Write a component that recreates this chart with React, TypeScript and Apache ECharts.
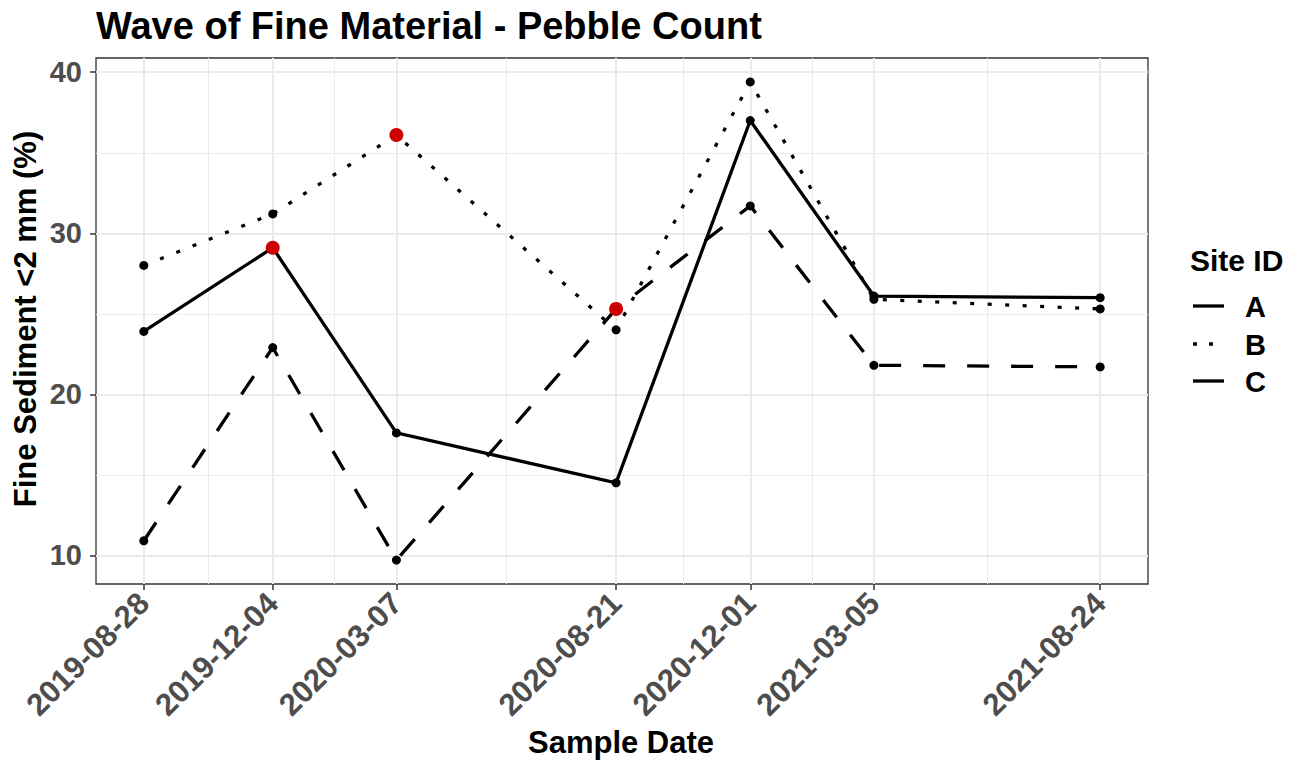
import React, { useEffect, useRef } from 'react';
import * as echarts from 'echarts';

const FONT = '"Liberation Sans", Arial, Helvetica, sans-serif';

// ---- data ----
const sampleDates = ['2019-08-28', '2019-12-04', '2020-03-07', '2020-08-21', '2020-12-01', '2021-03-05', '2021-08-24'];
const siteIds = ['A', 'B', 'C'];
const siteA = [23.9, 29.1, 17.6, 14.5, 37.0, 26.1, 26.0];
const siteB = [28.0, 31.2, 36.1, 24.0, 39.4, 25.9, 25.3];
const siteC = [10.9, 22.9, 9.7, 25.3, 31.7, 21.8, 21.7];
const highlightPoints = [
  { site: 'A', date: '2019-12-04' },
  { site: 'B', date: '2020-03-07' },
  { site: 'C', date: '2020-08-21' },
];
const yMajorTicks = [10, 20, 30, 40];
const yMinorTicks = [15, 25, 35];

const siteValues: Record<string, number[]> = { A: siteA, B: siteB, C: siteC };
const siteDash: Record<string, any> = { A: 'solid', B: [4, 13.5], C: [22, 22] };
const legendDash: Record<string, any> = { A: 'solid', B: [4, 12], C: [40, 10] };

// day numbers (days since epoch) so a numeric value axis acts as a date scale
const toDay = (d: string) => Date.parse(d + 'T00:00:00Z') / 86400000;
const dateDays = sampleDates.map(toDay);
const xMinorDays = dateDays.slice(1).map((t, i) => (t + dateDays[i]) / 2);
const xSpan = dateDays[dateDays.length - 1] - dateDays[0];
const xMin = dateDays[0] - 0.05 * xSpan;
const xMax = dateDays[dateDays.length - 1] + 0.05 * xSpan;
const allVals = [...siteA, ...siteB, ...siteC];
const vMin = Math.min(...allVals);
const vMax = Math.max(...allVals);
const ySpan = vMax - vMin;
const yMin = vMin - 0.05 * ySpan;
const yMax = vMax + 0.05 * ySpan;

const GRID = { left: 96, top: 58, right: 145, bottom: 178 };

export default function App() {
  const ref = useRef<HTMLDivElement>(null);
  useEffect(() => {
    if (!ref.current) return;
    const chart = echarts.init(ref.current, null, { renderer: 'svg' });

    const lineSeries = siteIds.map((s) => ({
      name: s,
      type: 'line',
      xAxisIndex: 0,
      yAxisIndex: 0,
      data: dateDays.map((t, i) => [t, siteValues[s][i]]),
      symbol: 'none',
      lineStyle: { color: '#000', width: 3.3, type: siteDash[s], cap: 'butt', join: 'miter', opacity: 1 },
      z: 2,
    }));
    const pointSeries = siteIds.map((s) => ({
      name: s + '-pts',
      type: 'scatter',
      xAxisIndex: 0,
      yAxisIndex: 0,
      data: dateDays.map((t, i) => [t, siteValues[s][i]]),
      symbol: 'circle',
      symbolSize: 9,
      itemStyle: { color: '#000', opacity: 1 },
      z: 3,
    }));
    const redSeries = {
      name: 'highlight',
      type: 'scatter',
      xAxisIndex: 0,
      yAxisIndex: 0,
      data: highlightPoints.map((h) => {
        const i = sampleDates.indexOf(h.date);
        return [dateDays[i], siteValues[h.site][i]];
      }),
      symbol: 'circle',
      symbolSize: 14,
      itemStyle: { color: '#CC0000', opacity: 1 },
      z: 4,
    };

    const legendGraphics: any[] = [
      {
        type: 'text',
        x: 1190,
        y: 260,
        style: { text: 'Site ID', font: `bold 30px ${FONT}`, fill: '#000', align: 'left', verticalAlign: 'middle' },
      },
    ];
    const keyY = [306, 344, 381];
    siteIds.forEach((s, i) => {
      const dash = legendDash[s];
      legendGraphics.push({
        type: 'line',
        shape: { x1: 1193, y1: keyY[i], x2: 1224, y2: keyY[i] },
        style: dash === 'solid' ? { stroke: '#000', lineWidth: 3.3 } : { stroke: '#000', lineWidth: 3.3, lineDash: dash },
      });
      legendGraphics.push({
        type: 'text',
        x: 1245,
        y: keyY[i] + 1,
        style: { text: s, font: `bold 29px ${FONT}`, fill: '#000', align: 'left', verticalAlign: 'middle' },
      });
    });

    const option: any = {
      animation: false,
      backgroundColor: '#fff',
      grid: {
        ...GRID,
        show: true,
        borderColor: '#333333',
        borderWidth: 1.3,
        backgroundColor: '#fff',
        containLabel: false,
        outerBoundsMode: 'none',
      },
      xAxis: [
        {
          type: 'value',
          min: xMin,
          max: xMax,
          position: 'bottom',
          axisLine: { show: false },
          axisTick: { show: true, length: 6, lineStyle: { color: '#333333', width: 1.5 }, customValues: dateDays },
          axisLabel: {
            customValues: dateDays,
            rotate: 45,
            margin: 14,
            hideOverlap: false,
            showMinLabel: true,
            showMaxLabel: true,
            color: '#4D4D4D',
            fontSize: 31,
            fontWeight: 'bold',
            fontFamily: FONT,
            formatter: (v: number) => {
              const i = dateDays.findIndex((d) => Math.abs(d - v) < 1e-6);
              return i >= 0 ? sampleDates[i] : '';
            },
          },
          splitLine: { show: true, lineStyle: { color: '#EBEBEB', width: 2 } },
        },
        {
          type: 'value',
          min: xMin,
          max: xMax,
          position: 'top',
          axisLine: { show: false },
          axisTick: { show: false, customValues: xMinorDays },
          axisLabel: { show: false, customValues: xMinorDays },
          splitLine: { show: true, lineStyle: { color: '#EBEBEB', width: 1 } },
        },
      ],
      yAxis: [
        {
          type: 'value',
          min: yMin,
          max: yMax,
          position: 'left',
          axisLine: { show: false },
          axisTick: { show: true, length: 6, lineStyle: { color: '#333333', width: 1.5 }, customValues: yMajorTicks },
          axisLabel: {
            customValues: yMajorTicks,
            margin: 14,
            color: '#4D4D4D',
            fontSize: 29,
            fontWeight: 'bold',
            fontFamily: FONT,
          },
          splitLine: { show: true, lineStyle: { color: '#EBEBEB', width: 2 } },
        },
        {
          type: 'value',
          min: yMin,
          max: yMax,
          position: 'right',
          axisLine: { show: false },
          axisTick: { show: false, customValues: yMinorTicks },
          axisLabel: { show: false, customValues: yMinorTicks },
          splitLine: { show: true, lineStyle: { color: '#EBEBEB', width: 1 } },
        },
      ],
      series: [...lineSeries, ...pointSeries, redSeries],
      graphic: [
        {
          type: 'text',
          x: 96,
          y: 26,
          style: {
            text: 'Wave of Fine Material - Pebble Count',
            font: `bold 38px ${FONT}`,
            fill: '#000',
            align: 'left',
            verticalAlign: 'middle',
          },
        },
        {
          type: 'text',
          x: 25,
          y: 319,
          rotation: Math.PI / 2,
          style: {
            text: 'Fine Sediment <2 mm (%)',
            font: `bold 31px ${FONT}`,
            fill: '#000',
            align: 'center',
            verticalAlign: 'middle',
          },
        },
        {
          type: 'text',
          x: 621,
          y: 742,
          style: {
            text: 'Sample Date',
            font: `bold 31px ${FONT}`,
            fill: '#000',
            align: 'center',
            verticalAlign: 'middle',
          },
        },
        ...legendGraphics,
      ],
    };
    chart.setOption(option);
    return () => chart.dispose();
  }, []);

  return (
    <div
      ref={ref}
      style={{ position: 'fixed', left: 0, top: 0, width: 1293, height: 762, background: '#fff' }}
    />
  );
}
